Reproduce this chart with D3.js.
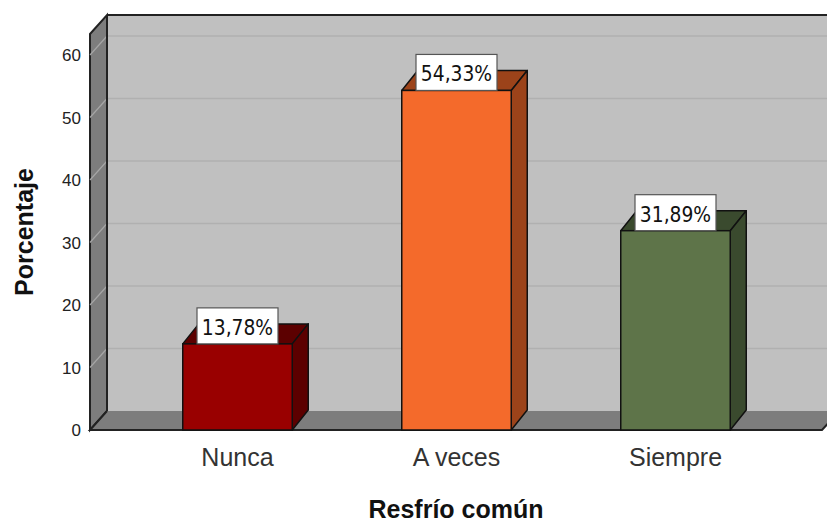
<!DOCTYPE html>
<html>
<head>
<meta charset="utf-8">
<script src="https://cdn.jsdelivr.net/npm/d3@7"></script>
<style>
  body { margin: 0; background: #fff; }
  svg { display: block; }
</style>
</head>
<body>
<svg id="chart" width="827" height="523"></svg>
<script>
// data
const categories = ["Nunca", "A veces", "Siempre"];
const values = [13.78, 54.33, 31.89];
const labels = ["13,78%", "54,33%", "31,89%"];
const yTicks = [0, 10, 20, 30, 40, 50, 60];

const frontColors = ["#990000", "#f46a2b", "#5e7449"];
const sideColors = ["#5c0000", "#9c431a", "#3a4a2e"];

const svg = d3.select("#chart");

// front plane scales
const y = d3.scaleLinear().domain([0, 63.36]).range([430, 34]);
const x = d3.scaleBand().domain(categories).range([128, 785])
    .paddingInner(0.5).paddingOuter(0.25);

const wallDx = 17, wallDy = -19;   // depth of walls
const barDx = 16, barDy = -20;     // depth of bars
const x0 = 90, xEnd = 822;
const y0 = y(0), yTop = y.range()[1];

const edge = "#222";

// back wall
svg.append("rect")
    .attr("x", x0 + wallDx).attr("y", yTop + wallDy)
    .attr("width", 900).attr("height", y0 - yTop)
    .attr("fill", "#c0c0c0");

// gridlines on back wall
svg.append("g").selectAll("line")
    .data(yTicks.filter(d => d > 0))
    .join("line")
    .attr("x1", x0 + wallDx).attr("x2", 827)
    .attr("y1", d => y(d) + wallDy).attr("y2", d => y(d) + wallDy)
    .attr("stroke", "#b0b0b0").attr("stroke-width", 1.5);

// top edge of back wall
svg.append("line")
    .attr("x1", x0 + wallDx).attr("x2", 827)
    .attr("y1", yTop + wallDy).attr("y2", yTop + wallDy)
    .attr("stroke", edge).attr("stroke-width", 2);

// left wall
svg.append("path")
    .attr("d", d3.line()([[x0, yTop], [x0 + wallDx, yTop + wallDy], [x0 + wallDx, y0 + wallDy], [x0, y0]]) + "Z")
    .attr("fill", "#7d7d7d").attr("stroke", edge).attr("stroke-width", 2);

// gridlines on left wall
svg.append("g").selectAll("line")
    .data(yTicks.filter(d => d > 0))
    .join("line")
    .attr("x1", x0).attr("x2", x0 + wallDx)
    .attr("y1", d => y(d)).attr("y2", d => y(d) + wallDy)
    .attr("stroke", "#a6a6a6").attr("stroke-width", 1.2);

// floor
svg.append("path")
    .attr("d", d3.line()([[x0, y0], [x0 + wallDx, y0 + wallDy], [xEnd + wallDx + 5, y0 + wallDy], [xEnd, y0]]) + "Z")
    .attr("fill", "#7d7d7d");
svg.append("path")
    .attr("d", d3.line()([[x0 + wallDx, y0 + wallDy], [x0, y0], [xEnd, y0], [xEnd + wallDx, y0 + wallDy]]))
    .attr("fill", "none").attr("stroke", edge).attr("stroke-width", 2);
svg.append("line")
    .attr("x1", x0 + wallDx).attr("x2", x0 + wallDx)
    .attr("y1", yTop + wallDy).attr("y2", y0 + wallDy)
    .attr("stroke", edge).attr("stroke-width", 2);

// y tick labels
svg.append("g").selectAll("text")
    .data(yTicks)
    .join("text")
    .attr("x", 81).attr("y", d => y(d) + 6)
    .attr("text-anchor", "end")
    .attr("font-family", "Liberation Sans, Arial, sans-serif")
    .attr("font-size", 17).attr("fill", "#222")
    .text(d => d);

// bars
const bars = svg.append("g").selectAll("g")
    .data(categories)
    .join("g");

bars.append("path") // top face
    .attr("d", (d, i) => {
        const l = x(d), r = x(d) + x.bandwidth(), t = y(values[i]);
        return d3.line()([[l, t], [l + barDx, t + barDy], [r + barDx, t + barDy], [r, t]]) + "Z";
    })
    .attr("fill", (d, i) => sideColors[i])
    .attr("stroke", "#111").attr("stroke-width", 1.5).attr("stroke-linejoin", "round");

bars.append("path") // side face
    .attr("d", (d, i) => {
        const r = x(d) + x.bandwidth(), t = y(values[i]);
        return d3.line()([[r, t], [r + barDx, t + barDy], [r + barDx, y0 + barDy], [r, y0]]) + "Z";
    })
    .attr("fill", (d, i) => sideColors[i])
    .attr("stroke", "#111").attr("stroke-width", 1.5).attr("stroke-linejoin", "round");

bars.append("rect") // front face
    .attr("x", d => x(d))
    .attr("y", (d, i) => y(values[i]))
    .attr("width", x.bandwidth())
    .attr("height", (d, i) => y0 - y(values[i]))
    .attr("fill", (d, i) => frontColors[i])
    .attr("stroke", "#111").attr("stroke-width", 1.5);

// value labels
const lab = svg.append("g").selectAll("g")
    .data(categories)
    .join("g")
    .attr("transform", (d, i) => `translate(${x(d) + x.bandwidth() / 2},${y(values[i])})`);

lab.append("rect")
    .attr("x", -40.5).attr("y", -36)
    .attr("width", 81).attr("height", 36)
    .attr("fill", "#fff").attr("stroke", "#555").attr("stroke-width", 1.2);

// narrow glyphs like the original label font
lab.append("text")
    .attr("transform", "translate(0,-9) scale(0.85,1)")
    .attr("text-anchor", "middle")
    .attr("font-family", "DejaVu Sans, sans-serif")
    .attr("font-size", 22).attr("fill", "#111")
    .text((d, i) => labels[i]);

// category labels
svg.append("g").selectAll("text")
    .data(categories)
    .join("text")
    .attr("x", d => x(d) + x.bandwidth() / 2)
    .attr("y", 466)
    .attr("text-anchor", "middle")
    .attr("font-family", "Liberation Sans, Arial, sans-serif")
    .attr("font-size", 25).attr("fill", "#333")
    .text(d => d);

// axis titles
svg.append("text")
    .attr("x", 456).attr("y", 518)
    .attr("text-anchor", "middle")
    .attr("font-family", "Liberation Sans, Arial, sans-serif")
    .attr("font-weight", "bold").attr("font-size", 25).attr("fill", "#111")
    .text("Resfrío común");

svg.append("text")
    .attr("transform", "translate(33,232) rotate(-90)")
    .attr("text-anchor", "middle")
    .attr("font-family", "Liberation Sans, Arial, sans-serif")
    .attr("font-weight", "bold").attr("font-size", 25).attr("fill", "#111")
    .text("Porcentaje");
</script>
</body>
</html>
